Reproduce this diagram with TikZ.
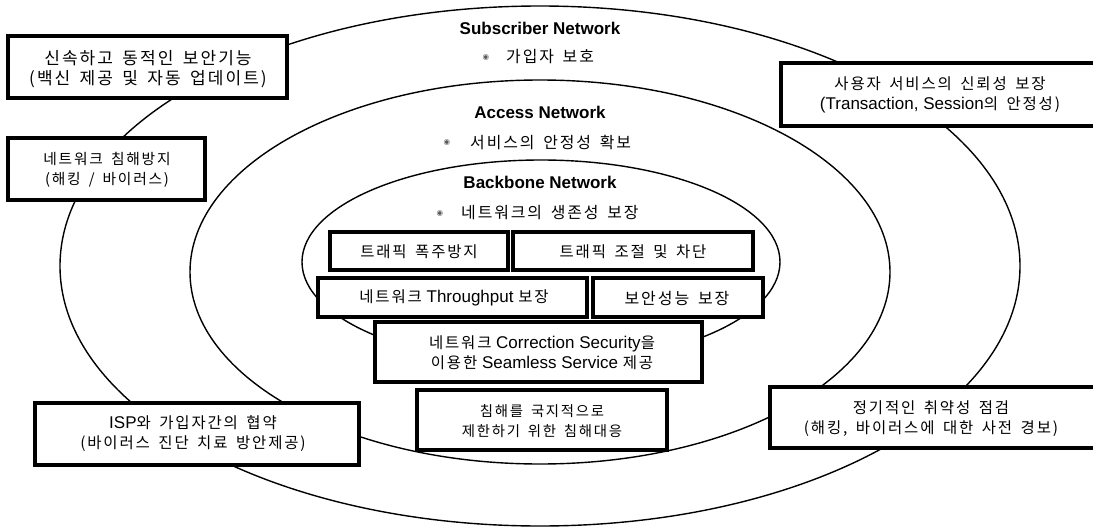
\documentclass[tikz,border=0pt]{standalone}
\usepackage{fontspec}
\setmainfont{Liberation Sans}
\newfontfamily\krf[Scale=0.91,LetterSpace=12,WordSpace=1.6]{Noto Sans CJK KR}
\newfontfamily\bulf{DejaVu Sans}
\newcommand{\K}[1]{{\krf #1}}
\newcommand{\fs}[1]{\fontsize{#1}{20}\selectfont}
\begin{document}
\begin{tikzpicture}[x=1pt,y=-1pt,
  ring/.style={draw=black,line width=1.4pt},
  abox/.style={draw=black,line width=3.6pt,fill=white},
  atext/.style={align=center,font=\fs{17},inner sep=0pt},
  title/.style={font=\fontsize{17}{20}\selectfont\bfseries,inner sep=0pt},
  sub/.style={font=\fs{17.5},inner sep=0pt},
  bul/.style={font=\fontsize{7.5}{8}\bulf,text=black!65,inner sep=0pt}]
\useasboundingbox (0,0) rectangle (1093,530);
\fill[white] (0,0) rectangle (1093,530);
% rings
\draw[ring] (540,266) ellipse [x radius=480, y radius=260];
\draw[ring] (540,272) ellipse [x radius=350, y radius=192];
\draw[ring] (541,262) ellipse [x radius=239, y radius=102];
% titles
\node[title] (sn) at (540,28) {Subscriber Network};
\node[bul] (sb) at (486,58) {◉};
\node[sub,anchor=west] (st) at (506,57) {\K{가입자 보호}};
\node[title] (an) at (540,112) {Access Network};
\node[bul] (ab) at (447,143) {◉};
\node[sub,anchor=west] (at) at (470,142) {\K{서비스의 안정성 확보}};
\node[title] (bn) at (540,182) {Backbone Network};
\node[bul] (bb) at (440,214) {◉};
\node[sub,anchor=west] (bt) at (461,213) {\K{네트워크의 생존성 보장}};
% outer boxes
\draw[abox] (8,36) rectangle (287,98);
\node[atext,font=\fs{18.7}] (b1) at (148,69) {\K{신속하고 동적인 보안기능}\\\K{(백신 제공 및 자동 업데이트)}};
\draw[abox] (8,138) rectangle (205,200);
\node[atext,font=\fs{16.2}] (b2) at (107,170) {\K{네트워크 침해방지}\\\K{(해킹 / 바이러스)}};
\draw[abox] (781,63) rectangle (1100,126);
\node[atext] (b3) at (940,95) {\K{사용자 서비스의 신뢰성 보장}\\(Transaction, Session\K{의 안정성)}};
\draw[abox] (35,403) rectangle (359,465);
\node[atext] (b4) at (193,434) {ISP\K{와 가입자간의 협약}\\\K{(바이러스 진단 치료 방안제공)}};
\draw[abox] (770,387) rectangle (1100,448);
\node[atext] (b5) at (931,419) {\K{정기적인 취약성 점검}\\\K{(해킹, 바이러스에 대한 사전 경보)}};
% inner boxes
\draw[abox] (330,232) rectangle (508,270);
\node[atext] (i1) at (419,252) {\K{트래픽 폭주방지}};
\draw[abox] (513,232) rectangle (753,270);
\node[atext] (i2) at (633,252) {\K{트래픽 조절 및 차단}};
\draw[abox] (318,278) rectangle (587,317);
\node[atext] (i3) at (454,298) {\K{네트워크} Throughput \K{보장}};
\draw[abox] (593,278) rectangle (763,317);
\node[atext,font=\fs{17.6}] (i4) at (677,298) {\K{보안성능 보장}};
\draw[abox] (375,322) rectangle (702,382);
\node[atext] (i5) at (542,353) {\K{네트워크} Correction Security\K{을}\\\K{이용한} Seamless Service \K{제공}};
\draw[abox] (417,390) rectangle (667,450);
\node[atext,font=\fs{15.8}] (i6) at (542,421) {\K{침해를 국지적으로}\\\K{제한하기 위한 침해대응}};
\end{tikzpicture}
\end{document}
